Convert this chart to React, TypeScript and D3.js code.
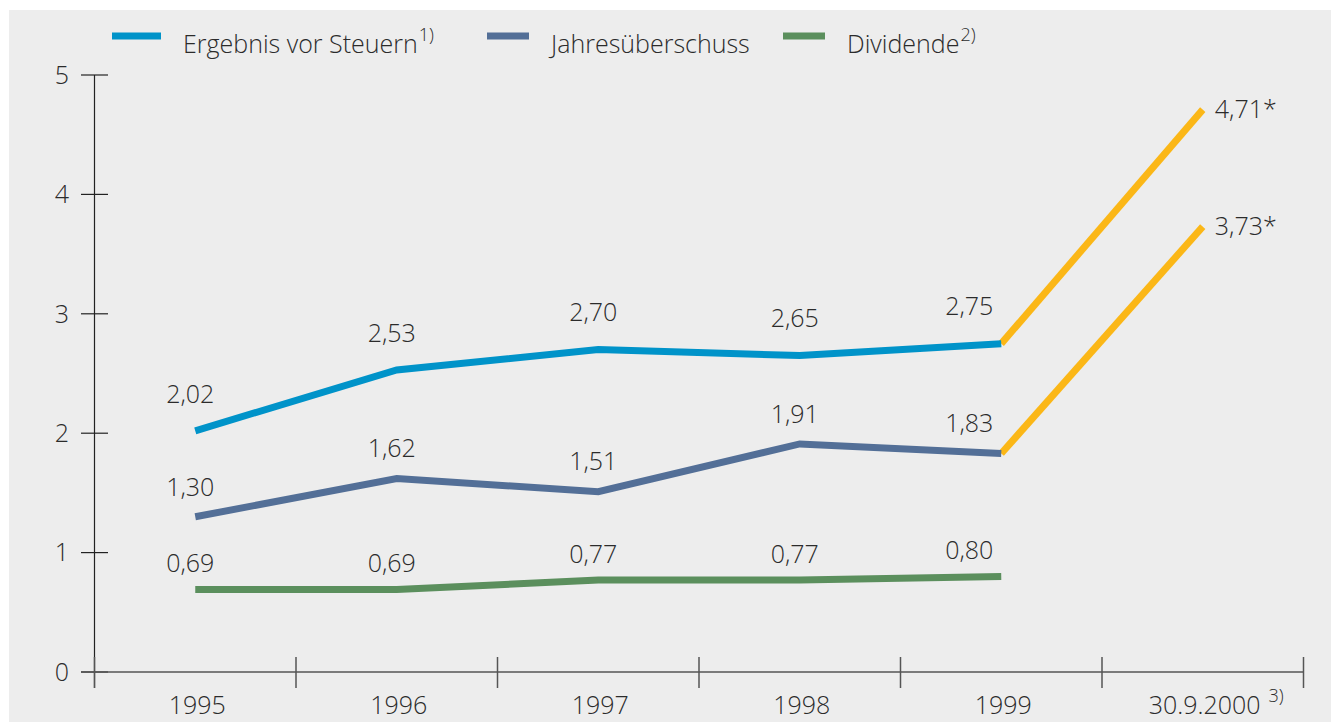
import React from "react";
import { scaleLinear, scaleBand, line } from "d3";

const categories = ["1995", "1996", "1997", "1998", "1999", "30.9.2000"];
const ergebnis = [2.02, 2.53, 2.7, 2.65, 2.75];
const jahresueberschuss = [1.3, 1.62, 1.51, 1.91, 1.83];
const dividende = [0.69, 0.69, 0.77, 0.77, 0.8];
const ergebnis2000 = 4.71;
const jahres2000 = 3.73;
const yTicks = [0, 1, 2, 3, 4, 5];

const BLUE = "#0093c9";
const SLATE = "#536f97";
const GREEN = "#5b8f5d";
const YELLOW = "#fbb717";
const TEXT = "#2b2b2b";
const FONT = "'Open Sans', 'Noto Sans', sans-serif";
const FS = 25;

const fmt = (v: number) => v.toFixed(2).replace(".", ",");

const App = () => {
  const width = 1331;
  const height = 722;

  const x = scaleBand<string>().domain(categories).range([94.5, 1303.5]);
  const y = scaleLinear().domain([0, 5]).range([672, 75]);
  const cx = (i: number) => (x(categories[i]) as number) + x.bandwidth() / 2;

  const path = line<number>()
    .x((_, i) => cx(i))
    .y((d) => y(d));

  const series = [
    { name: "Ergebnis vor Steuern", sup: "1)", values: ergebnis, color: BLUE, off: -37, end: ergebnis2000 },
    { name: "Jahresüberschuss", sup: "", values: jahresueberschuss, color: SLATE, off: -30, end: jahres2000 },
    { name: "Dividende", sup: "2)", values: dividende, color: GREEN, off: -26, end: null as number | null },
  ];

  const legendX = [112, 487, 783];
  const swatchW = [49, 42, 42];

  return (
    <svg
      width={width}
      height={height}
      style={{ position: "absolute", left: 0, top: 0 }}
      fontFamily={FONT}
      fontWeight={300}
    >
      <rect x={0} y={0} width={width} height={height} fill="#fff" />
      <rect x={9} y={10} width={width - 9} height={height - 10} fill="#ededed" />

      {/* legend */}
      {series.map((s, i) => (
        <g key={s.name}>
          <rect x={legendX[i]} y={32.5} width={swatchW[i]} height={7} fill={s.color} />
          <text x={legendX[i] + swatchW[i] + 22} y={53} fontSize={FS} fill={TEXT}>
            {s.name}
            {s.sup && (
              <tspan fontSize={18} dx={1} dy={-12}>
                {s.sup}
              </tspan>
            )}
          </text>
        </g>
      ))}

      {/* y axis */}
      <line x1={94.5} x2={94.5} y1={y(5)} y2={688} stroke="#222" strokeWidth={1.2} />
      {yTicks.map((t) => (
        <g key={t}>
          <line x1={81} x2={108} y1={y(t)} y2={y(t)} stroke="#222" strokeWidth={1.2} />
          <text x={69} y={y(t)} dy="0.35em" textAnchor="end" fontSize={FS} fill={TEXT}>
            {t}
          </text>
        </g>
      ))}

      {/* x axis */}
      <line x1={81} x2={1303.5} y1={y(0)} y2={y(0)} stroke="#555" strokeWidth={1.5} />
      {categories.map((c) => (
        <line key={"t" + c} x1={x(c) as number} x2={x(c) as number} y1={657} y2={688} stroke="#555" strokeWidth={1.5} />
      ))}
      <line x1={1303.5} x2={1303.5} y1={657} y2={688} stroke="#555" strokeWidth={1.5} />
      {categories.map((c, i) =>
        i === 5 ? (
          <text key={"l" + c} x={cx(i) - 54} y={714} fontSize={FS} fill={TEXT}>
            {c}
            <tspan fontSize={18} dx={8} dy={-12}>
              3)
            </tspan>
          </text>
        ) : (
          <text key={"l" + c} x={cx(i) + 2} y={714} textAnchor="middle" fontSize={FS} fill={TEXT}>
            {c}
          </text>
        )
      )}

      {/* yellow projections */}
      {series
        .filter((s) => s.end !== null)
        .map((s) => {
          const n = s.values.length;
          const last = s.values[n - 1];
          return (
            <g key={"p" + s.name}>
              <line x1={cx(n - 1)} y1={y(last)} x2={cx(n)} y2={y(s.end as number)} stroke={YELLOW} strokeWidth={7} />
              <text x={cx(n) + 12} y={y(s.end as number)} dy="0.35em" fontSize={FS} fill={TEXT}>
                {fmt(s.end as number) + "*"}
              </text>
            </g>
          );
        })}

      {/* lines */}
      {series.map((s) => (
        <path key={s.name} d={path(s.values) || ""} fill="none" stroke={s.color} strokeWidth={7} />
      ))}

      {/* value labels */}
      {series.map((s) =>
        s.values.map((v, i) => (
          <text
            key={s.name + i}
            x={cx(i) + (i === 4 ? -32 : -5)}
            y={y(v) + s.off}
            dy="0.35em"
            textAnchor="middle"
            fontSize={FS}
            fill={TEXT}
          >
            {fmt(v)}
          </text>
        ))
      )}
    </svg>
  );
};

export default App;
